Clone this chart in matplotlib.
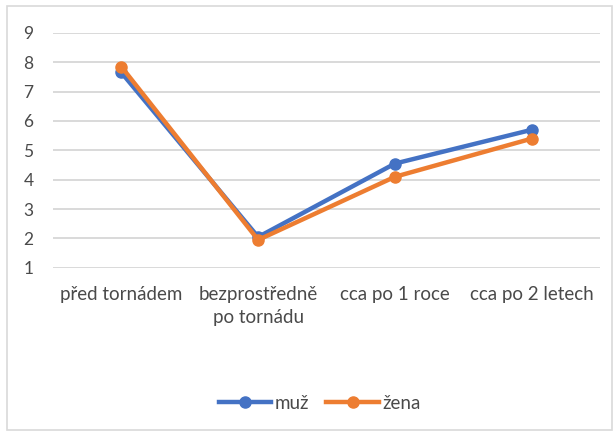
import matplotlib.pyplot as plt
from matplotlib.patches import Rectangle

# data
kategorie = ['před tornádem', 'bezprostředně\npo tornádu', 'cca po 1 roce', 'cca po 2 letech']
muz = [7.65, 2.05, 4.55, 5.7]
zena = [7.85, 1.95, 4.1, 5.4]
yticks = [1, 2, 3, 4, 5, 6, 7, 8, 9]

plt.rcParams['font.family'] = ['Lato', 'DejaVu Sans']
text_barva = '#4a4a4a'

fig = plt.figure(figsize=(6.15, 4.32), dpi=100)
ax = fig.add_axes([0.086, 0.380, 0.890, 0.544])

x = list(range(len(kategorie)))
ax.plot(x, muz, color='#4472C4', linewidth=3.2, marker='o', markersize=8, label='muž')
ax.plot(x, zena, color='#ED7D31', linewidth=3.2, marker='o', markersize=8, label='žena')

ax.set_xlim(-0.5, 3.5)
ax.set_ylim(1, 9)
ax.set_yticks(yticks)
ax.set_xticks(x)
ax.set_xticklabels(kategorie, fontsize=13.5, color=text_barva, linespacing=1.45)
ax.tick_params(axis='y', labelsize=12.5, labelcolor=text_barva, length=0, pad=14)
ax.tick_params(axis='x', length=0, pad=13)
ax.grid(axis='y', color='#d9d9d9', linewidth=1.4)
ax.set_axisbelow(True)
for s in ax.spines.values():
    s.set_visible(False)

leg = fig.legend(loc='center', bbox_to_anchor=(0.52, 0.067), ncol=2, frameon=False,
                 fontsize=13.5, handlelength=2.8, columnspacing=0.9, handletextpad=0.2)
for t in leg.get_texts():
    t.set_color(text_barva)

# ramecek grafu
fig.patches.append(Rectangle((0.011, 0.005), 0.984, 0.98, transform=fig.transFigure,
                             fill=False, edgecolor='#d9d9d9', linewidth=1.2))

fig.savefig('out.png', dpi=100)
